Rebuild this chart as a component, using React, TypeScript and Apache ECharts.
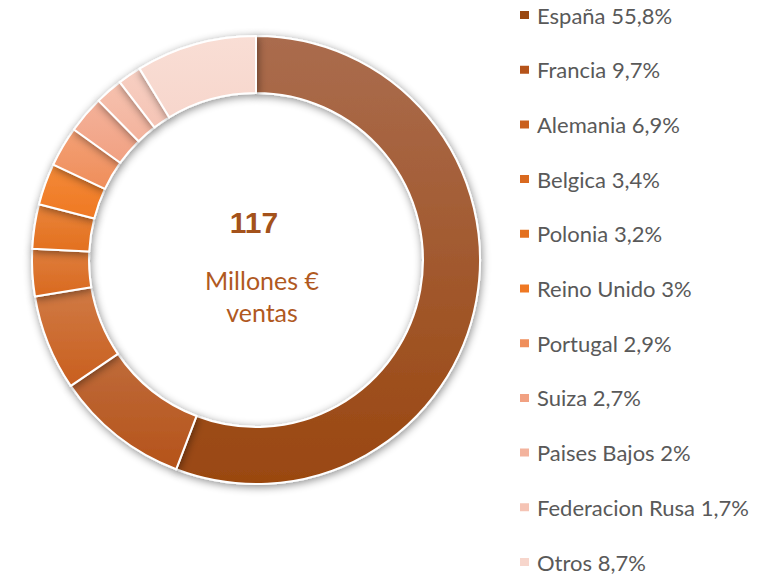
import React, { useEffect, useRef } from "react";
import * as echarts from "echarts";

const countries = ["España", "Francia", "Alemania", "Belgica", "Polonia", "Reino Unido", "Portugal", "Suiza", "Paises Bajos", "Federacion Rusa", "Otros"];
const shares = [55.8, 9.7, 6.9, 3.4, 3.2, 3, 2.9, 2.7, 2, 1.7, 8.7];
const shareLabels = ["55,8%", "9,7%", "6,9%", "3,4%", "3,2%", "3%", "2,9%", "2,7%", "2%", "1,7%", "8,7%"];
const baseColors = ["#9A4710", "#B5531A", "#C95F1E", "#D9691F", "#E3701F", "#EF7823", "#EF8E5B", "#F1A182", "#F3B39D", "#F5C4B5", "#F7D6CC"];
const topColors = ["#AA6C4E", "#BF6B3A", "#D07A45", "#DF7E3D", "#E9843A", "#F38A38", "#F3A075", "#F4B199", "#F6C1AE", "#F7CFC2", "#F9DED5"];
const totalLabel = "117";
const subLabel = "Millones €\nventas";

export default function App() {
  const ref = useRef<HTMLDivElement>(null);
  useEffect(() => {
    const chart = echarts.init(ref.current!, undefined, { renderer: "svg" });
    const data = countries.map((name, i) => ({
      name,
      value: shares[i],
      itemStyle: {
        color: new echarts.graphic.LinearGradient(0, 0, 0, 1, [
          { offset: 0, color: topColors[i] },
          { offset: 1, color: baseColors[i] },
        ]),
      },
    }));
    const labelMap: Record<string, string> = {};
    countries.forEach((c, i) => (labelMap[c] = `${c} ${shareLabels[i]}`));
    const legendBase = {
      orient: "vertical",
      left: 518,
      padding: 0,
      itemWidth: 11,
      itemHeight: 10,
      itemGap: 32.7,
      icon: "rect",
      formatter: (n: string) => labelMap[n],
      textStyle: {
        fontFamily: "Lato",
        fontSize: 22,
        color: "#595959",
        padding: [0, 0, 0, 2],
      },
    };
    const legendItems = countries.map((c, i) => ({ name: c, itemStyle: { color: baseColors[i] } }));
    chart.setOption({
      animation: false,
      color: baseColors,
      legend: [
        { ...legendBase, top: 4, data: legendItems.slice(0, 10) },
        { ...legendBase, top: 551, data: legendItems.slice(10) },
      ],
      series: [
        {
          type: "pie",
          center: [256, 260],
          radius: [167, 224],
          startAngle: 90,
          clockwise: true,
          label: { show: false },
          labelLine: { show: false },
          emphasis: { disabled: true },
          itemStyle: {
            borderColor: "#ffffff",
            borderWidth: 2,
            shadowBlur: 8,
            shadowColor: "rgba(0,0,0,0.45)",
            shadowOffsetX: 1,
            shadowOffsetY: 2,
          },
          data,
        },
      ],
      graphic: [
        {
          type: "text",
          x: 254,
          y: 222,
          style: {
            text: totalLabel,
            font: "bold 30px 'Liberation Sans', Arial, sans-serif",
            fill: "#A4521B",
            align: "center",
            verticalAlign: "middle",
          },
        },
        {
          type: "text",
          x: 262,
          y: 296,
          style: {
            text: subLabel,
            font: "25px Lato, sans-serif",
            lineHeight: 32,
            fill: "#B0591F",
            align: "center",
            verticalAlign: "middle",
          },
        },
      ],
    });
    return () => chart.dispose();
  }, []);
  return <div ref={ref} style={{ width: 779, height: 576, position: "absolute", left: 0, top: 0 }} />;
}
